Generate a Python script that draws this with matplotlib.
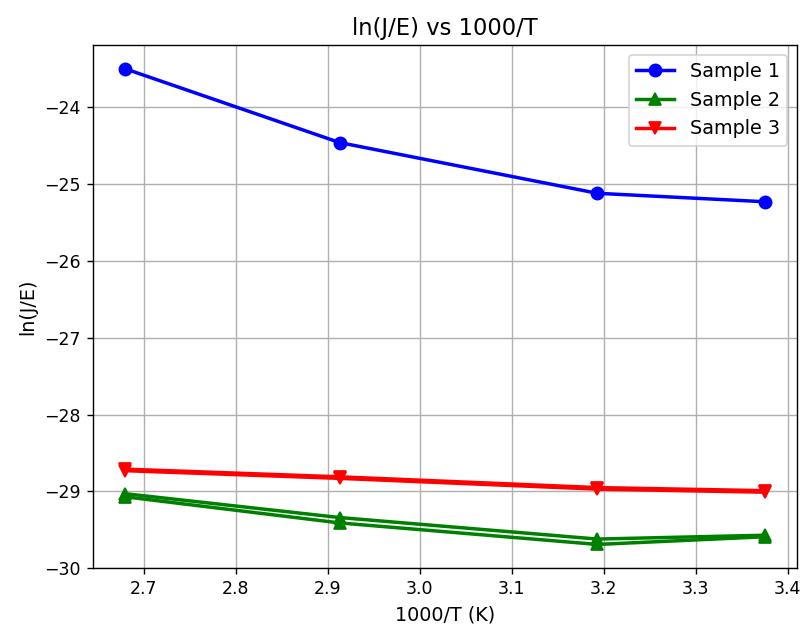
import numpy as np
import matplotlib
matplotlib.use("Agg")
import matplotlib.pyplot as plt

# 1000/T values for the four temperatures
inv_T = [2.680, 2.913, 3.193, 3.375]

# ln(J/E) per sample (sample 2 and 3 were measured twice)
sample1 = [-23.50, -24.46, -25.12, -25.23]
sample2a = [-29.03, -29.34, -29.62, -29.57]
sample2b = [-29.07, -29.41, -29.69, -29.59]
sample3a = [-28.71, -28.81, -28.95, -28.99]
sample3b = [-28.73, -28.83, -28.97, -29.01]

fig = plt.figure(figsize=(803 / 125, 630 / 125), dpi=125)
ax = fig.add_axes([0.1158, 0.098, 0.8767, 0.8306])

ax.plot(inv_T, sample1, marker='o', color='blue', lw=2, ms=7, label='Sample 1')
ax.plot(inv_T, sample2a, marker='^', color='green', lw=2, ms=7, label='Sample 2')
ax.plot(inv_T, sample2b, marker='^', color='green', lw=2, ms=7)
ax.plot(inv_T, sample3a, marker='v', color='red', lw=2, ms=7, label='Sample 3')
ax.plot(inv_T, sample3b, marker='v', color='red', lw=2, ms=7)

ax.set_xlim(2.645, 3.41)
ax.set_ylim(-30.0, -23.19)

ax.set_xlabel("1000/T (K)", fontsize=11)
ax.set_ylabel("ln(J/E)", fontsize=11)
ax.set_title("ln(J/E) vs 1000/T", fontsize=13)
ax.legend(fontsize=11)
ax.grid()

fig.savefig("out.png", dpi=125)
